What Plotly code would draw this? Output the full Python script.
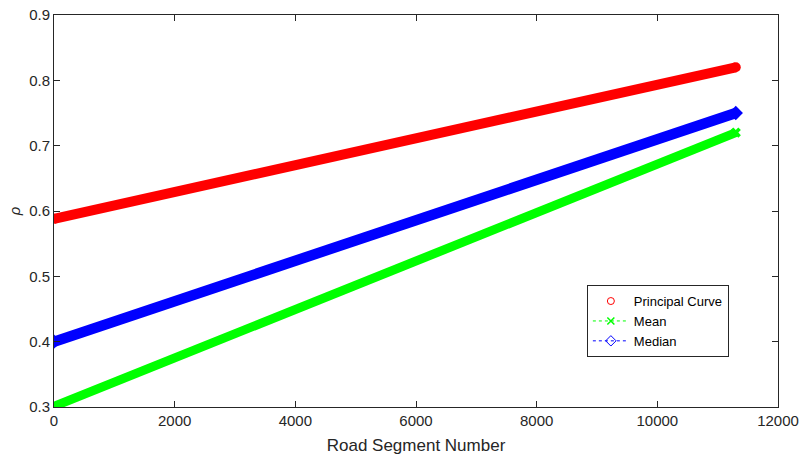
import plotly.graph_objects as go

# Data (segment number endpoints of each fitted series)
segments = [0, 11300]
principal_curve = [0.588, 0.820]
mean_vals = [0.301, 0.720]
median_vals = [0.400, 0.750]

x_ticks = [0, 2000, 4000, 6000, 8000, 10000, 12000]
x_tick_labels = ["0", "2000", "4000", "6000", "8000", "10000", "12000"]
y_ticks = [0.3, 0.4, 0.5, 0.6, 0.7, 0.8, 0.9]
y_tick_labels = ["0.3", "0.4", "0.5", "0.6", "0.7", "0.8", "0.9"]

INK = "#262626"
FONT = "Liberation Sans, Arial, Helvetica, sans-serif"

fig = go.Figure()

# Thick bands (dense markers in the original)
fig.add_trace(go.Scatter(x=segments, y=principal_curve, mode="lines+markers",
                         line=dict(color="#ff0000", width=10),
                         marker=dict(symbol="circle", size=10, color="#ff0000"),
                         showlegend=False, hoverinfo="skip"))
fig.add_trace(go.Scatter(x=segments, y=mean_vals, mode="lines+markers",
                         line=dict(color="#00ff00", width=9),
                         marker=dict(symbol="x", size=9, color="#00ff00"),
                         showlegend=False, hoverinfo="skip"))
fig.add_trace(go.Scatter(x=segments, y=median_vals, mode="lines+markers",
                         line=dict(color="#0000ff", width=10.5),
                         marker=dict(symbol="diamond", size=11, color="#0000ff"),
                         showlegend=False, hoverinfo="skip"))

# Legend entries
fig.add_trace(go.Scatter(x=[None], y=[None], mode="markers", name="Principal Curve",
                         marker=dict(symbol="circle-open", size=7, color="#ff0000",
                                     line=dict(width=1, color="#ff0000"))))
fig.add_trace(go.Scatter(x=[None], y=[None], mode="lines+markers", name="Mean",
                         line=dict(color="#00ff00", width=1, dash="dot"),
                         marker=dict(symbol="x-thin-open", size=7, color="#00ff00",
                                     line=dict(width=1.5, color="#00ff00"))))
fig.add_trace(go.Scatter(x=[None], y=[None], mode="lines+markers", name="Median",
                         line=dict(color="#0000ff", width=1, dash="dot"),
                         marker=dict(symbol="diamond-open", size=8, color="#0000ff",
                                     line=dict(width=1, color="#0000ff"))))

fig.update_layout(
    width=800, height=455,
    margin=dict(l=54, r=22, t=15, b=48, autoexpand=False),
    paper_bgcolor="white", plot_bgcolor="white",
    font=dict(family=FONT, size=15, color=INK),
    showlegend=True,
    legend=dict(x=0.736, y=0.311, xanchor="left", yanchor="top",
                bgcolor="white", bordercolor=INK, borderwidth=1,
                font=dict(size=13, color="#000000"),
                tracegroupgap=0, itemwidth=36),
)
fig.update_xaxes(range=[0, 12000], tickvals=x_ticks, ticktext=x_tick_labels,
                 ticks="inside", ticklen=6, automargin=False,
                 tickcolor=INK, showline=True, linecolor=INK, linewidth=1,
                 mirror="ticks", showgrid=False, zeroline=False,
                 title=dict(text="Road Segment Number", font=dict(size=17, color=INK), standoff=13))
fig.update_yaxes(range=[0.3, 0.9], tickvals=y_ticks, ticktext=y_tick_labels,
                 ticks="inside", ticklen=6, tickcolor=INK, showline=True, automargin=False,
                 linecolor=INK, linewidth=1, mirror="ticks", showgrid=False,
                 zeroline=False,
                 title=dict(text="<i>ρ</i>", font=dict(size=15, color=INK), standoff=4))

fig.write_html("out.html", config={"displayModeBar": False},
               post_script="document.body.style.margin='0';document.body.style.overflow='hidden';")
